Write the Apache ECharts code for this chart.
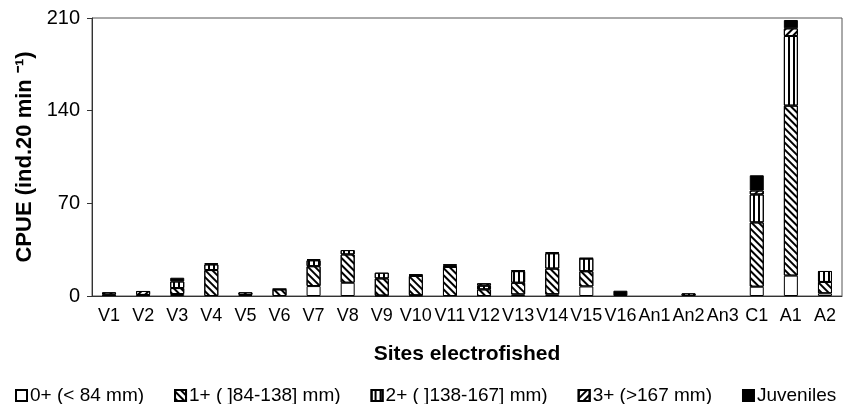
<!DOCTYPE html>
<html>
<head>
<meta charset="utf-8">
<script src="https://cdn.jsdelivr.net/npm/echarts@6/dist/echarts.min.js"></script>
<style>
  html, body { margin: 0; padding: 0; background: #fff; }
  #cpue { width: 844px; height: 404px; }
</style>
</head>
<body>
<div id="cpue"></div>
<script>
// sites and CPUE per size class
const sites = ['V1', 'V2', 'V3', 'V4', 'V5', 'V6', 'V7', 'V8', 'V9', 'V10', 'V11',
  'V12', 'V13', 'V14', 'V15', 'V16', 'An1', 'An2', 'An3', 'C1', 'A1', 'A2'];
const age0 = [0, 0, 1.5, 0, 0, 0, 7.5, 10, 0.3, 0.5, 0, 0, 1.2, 1.3, 7.2, 0, 0, 0, 0, 7, 15.4, 2];
const age1 = [1, 0.8, 4.5, 19.6, 0.8, 5, 15, 21.4, 13, 14.6, 22, 5, 8.8, 19.4, 11.5, 0, 0, 0, 0, 48.6, 128.4, 8.6];
const age2 = [0, 0, 5, 4.3, 0, 0, 4.5, 3.3, 4.3, 0.5, 1, 2.8, 8.8, 11.6, 9.6, 0, 0, 2, 0, 21.1, 52.6, 8.3];
const age3 = [1.8, 3, 0, 0.8, 2, 0.3, 0.7, 0, 0, 0.8, 0.9, 1.8, 0.8, 0.7, 0.3, 0, 0, 0, 0, 3, 5.8, 0];
const juveniles = [0, 0, 2.8, 0, 0, 0, 0, 0, 0, 0, 0, 0, 0, 0, 0, 4, 0, 0, 0, 11.5, 6.3, 0];
const yTicks = [0, 70, 140, 210];

const legendNames = ['0+ (< 84 mm)', '1+ ( ]84-138] mm)', '2+ ( ]138-167] mm)', '3+ (>167 mm)', 'Juveniles'];

const font = 'Liberation Sans, Arial, sans-serif';

function hatch(rot) {
  return {
    symbol: 'rect',
    symbolSize: 1,
    color: '#000',
    dashArrayX: [1, 0],
    dashArrayY: [1.4, 2.6],
    rotation: rot
  };
}

const styles = [
  { color: '#fff', borderColor: '#000', borderWidth: 1 },
  { color: '#fff', borderColor: '#000', borderWidth: 1, decal: hatch(Math.PI / 4) },
  { color: '#fff', borderColor: '#000', borderWidth: 1, decal: hatch(Math.PI / 2) },
  { color: '#fff', borderColor: '#000', borderWidth: 1, decal: hatch(-Math.PI / 4) },
  { color: '#000', borderColor: '#000', borderWidth: 1 }
];
const values = [age0, age1, age2, age3, juveniles];

const myChart = echarts.init(document.getElementById('cpue'));

const option = {
  animation: false,
  textStyle: { fontFamily: font },
  grid: {
    left: 92, right: 2, top: 18, bottom: 108,
    show: true, borderColor: '#555', borderWidth: 1
  },
  legend: {
    left: 10,
    top: 381,
    itemWidth: 11,
    itemHeight: 11,
    itemGap: 30,
    icon: 'rect',
    data: legendNames,
    textStyle: { fontFamily: font, fontSize: 19, color: '#000', padding: [0, 0, 0, -2] }
  },
  xAxis: {
    type: 'category',
    data: sites,
    name: 'Sites electrofished',
    nameLocation: 'middle',
    nameGap: 48,
    nameTextStyle: { fontFamily: font, fontWeight: 'bold', fontSize: 21, color: '#000' },
    axisLine: { lineStyle: { color: '#333' } },
    axisTick: { length: 5, lineStyle: { color: '#333' } },
    axisLabel: { interval: 0, fontSize: 18, color: '#000', margin: 11 }
  },
  yAxis: {
    type: 'value',
    min: yTicks[0],
    max: yTicks[yTicks.length - 1],
    interval: 70,
    name: 'CPUE (ind.20 min \u207B\u00B9)',
    nameLocation: 'middle',
    nameGap: 54,
    nameTextStyle: { fontFamily: font, fontWeight: 'bold', fontSize: 22, color: '#000' },
    axisLine: { show: true, lineStyle: { color: '#333' } },
    axisTick: { show: true, length: 5, lineStyle: { color: '#333' } },
    splitLine: { show: false },
    axisLabel: { fontSize: 20, color: '#000', margin: 12 }
  },
  series: values.map((v, i) => ({
    name: legendNames[i],
    type: 'bar',
    stack: 'cpue',
    barWidth: 14,
    itemStyle: styles[i],
    // empty classes are left out so no outline is drawn at zero
    data: v.map(d => (d === 0 ? '-' : d))
  }))
};

myChart.setOption(option);
</script>
</body>
</html>
